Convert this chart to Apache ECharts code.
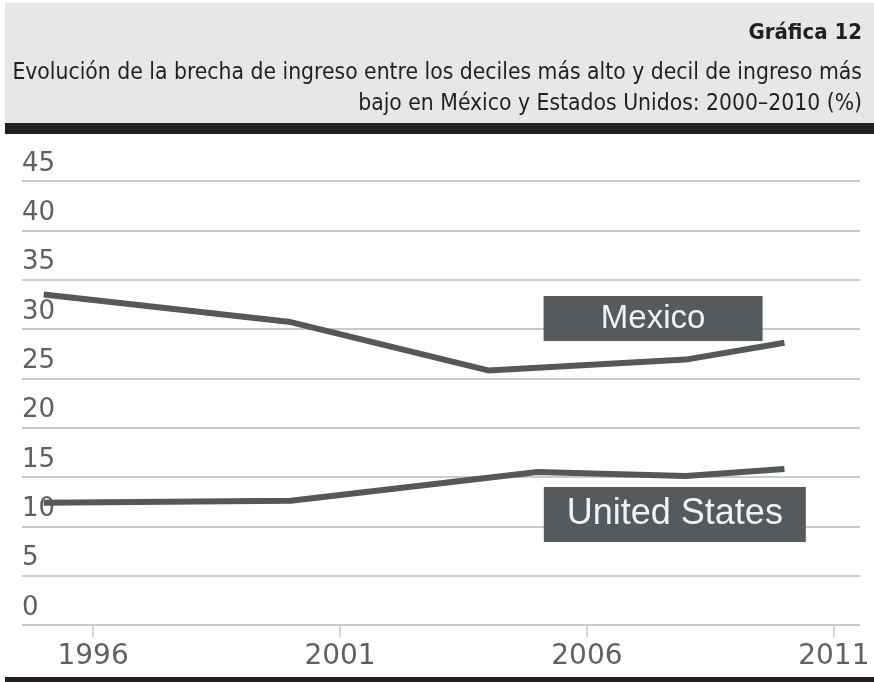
<!DOCTYPE html>
<html>
<head>
<meta charset="utf-8">
<script src="https://cdn.jsdelivr.net/npm/echarts@6/dist/echarts.min.js"></script>
<style>html,body{margin:0;padding:0;background:#fff}#c{width:874px;height:682px}</style>
</head>
<body>
<div id="c"></div>
<script>
// Data
const mexicoYears = [1995, 2000, 2004, 2008, 2010];
const mexicoValues = [33.5, 30.7, 25.8, 26.9, 28.6];
const usYears = [1995, 2000, 2005, 2008, 2010];
const usValues = [12.4, 12.6, 15.5, 15.1, 15.8];
const xTickLabels = [1996, 2001, 2006, 2011];
const yTicks = [0, 5, 10, 15, 20, 25, 30, 35, 40, 45];
const seriesNames = ['Mexico', 'United States'];
const titleText = 'Gráfica 12';
const subtitleLines = [
  'Evolución de la brecha de ingreso entre los deciles más alto y decil de ingreso más',
  'bajo en México y Estados Unidos: 2000–2010 (%)'
];

const chart = echarts.init(document.getElementById('c'), null, {renderer: 'canvas'});
const lineColor = '#54585a';
const gridColor = '#c9caca';
const labelColor = '#5e6163';

const option = {
  animation: false,
  backgroundColor: '#ffffff',
  graphic: [
    {type: 'rect', shape: {x: 5, y: 3, width: 869, height: 121}, style: {fill: '#e6e7e8'}, z: 0},
    {type: 'rect', shape: {x: 5, y: 123, width: 869, height: 11}, style: {fill: '#231f20'}, z: 1},
    {type: 'rect', shape: {x: 5, y: 677, width: 869, height: 5}, style: {fill: '#231f20'}, z: 1},
    {type: 'text', x: 862, y: 33, style: {text: titleText, fill: '#231f20', font: 'bold 22px "DejaVu Sans Condensed", "DejaVu Sans"', textAlign: 'right', textVerticalAlign: 'middle'}, z: 2},
    {type: 'text', x: 862, y: 73, style: {text: subtitleLines[0], fill: '#231f20', font: '22.7px "DejaVu Sans Condensed", "DejaVu Sans"', textAlign: 'right', textVerticalAlign: 'middle'}, z: 2},
    {type: 'text', x: 862, y: 104, style: {text: subtitleLines[1], fill: '#231f20', font: '22.7px "DejaVu Sans Condensed", "DejaVu Sans"', textAlign: 'right', textVerticalAlign: 'middle'}, z: 2}
  ],
  grid: {left: 22, right: 14, top: 181, bottom: 57, containLabel: false},
  xAxis: {
    type: 'value',
    min: 1994.56,
    max: 2011.53,
    axisLine: {show: false},
    splitLine: {show: false},
    axisTick: {show: true, customValues: xTickLabels, length: 12, lineStyle: {color: gridColor, width: 1.5}},
    axisLabel: {customValues: xTickLabels, color: labelColor, fontSize: 28, fontFamily: 'DejaVu Sans', margin: 18, formatter: v => String(v)}
  },
  yAxis: {
    type: 'value',
    min: 0,
    max: 45,
    interval: 5,
    axisLine: {show: false},
    axisTick: {show: false},
    splitLine: {show: true, lineStyle: {color: gridColor, width: 2}},
    axisLabel: {inside: true, margin: 0, align: 'left', verticalAlign: 'bottom', padding: [0, 0, 4, 0], color: labelColor, fontSize: 26, fontFamily: 'DejaVu Sans'}
  },
  series: [
    {
      name: seriesNames[0],
      type: 'line',
      data: mexicoYears.map((y, i) => [y, mexicoValues[i]]),
      symbol: 'none',
      lineStyle: {color: lineColor, width: 6},
      z: 3,
      markPoint: {
        symbol: 'rect',
        symbolSize: [219, 45],
        itemStyle: {color: '#565a5c'},
        label: {show: true, position: 'inside', color: '#f2f2f2', fontSize: 33, fontFamily: 'Liberation Sans', formatter: seriesNames[0]},
        data: [{coord: [2007.34, 31.06]}]
      }
    },
    {
      name: seriesNames[1],
      type: 'line',
      data: usYears.map((y, i) => [y, usValues[i]]),
      symbol: 'none',
      lineStyle: {color: lineColor, width: 6},
      z: 3,
      markPoint: {
        symbol: 'rect',
        symbolSize: [262, 55],
        itemStyle: {color: '#565a5c'},
        label: {show: true, position: 'inside', color: '#f2f2f2', fontSize: 36, fontFamily: 'Liberation Sans', formatter: seriesNames[1]},
        data: [{coord: [2007.78, 11.2]}]
      }
    }
  ]
};
chart.setOption(option);
</script>
</body>
</html>
